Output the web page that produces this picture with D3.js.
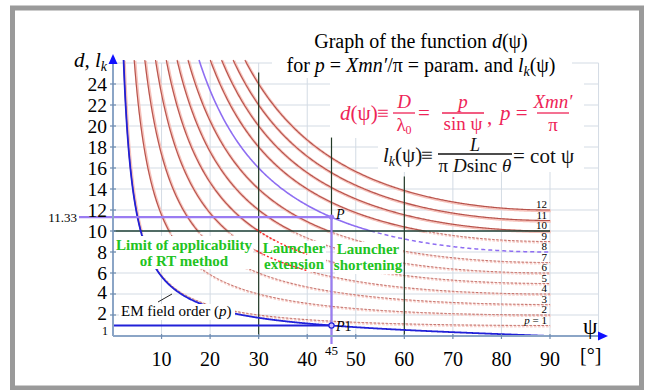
<!DOCTYPE html>
<html>
<head>
<meta charset="utf-8">
<script src="https://cdn.jsdelivr.net/npm/d3@7"></script>
</head>
<body style="margin:0;background:#fff">
<svg id="chart" width="645" height="390" style="display:block"></svg>
<script>
// Parameter values p of the family d(psi) = p / sin(psi)
const pValues = [1, 2, 3, 4, 5, 6, 7, 8, 9, 10, 11, 12];
const highlightP = 8;                 // curve through the working point P
const psiTicks = [10, 20, 30, 40, 50, 60, 70, 80, 90];
const dTicks = [2, 4, 6, 8, 10, 12, 14, 16, 18, 20, 22, 24];
const gridD = [0, 2, 4, 6, 8, 10, 12, 14, 16, 18, 20, 22, 24, 26];
const gridPsi = [0, 10, 20, 30, 40, 50, 60, 70, 80, 90, 100];
const limitD = 10;                    // limit of applicability of the RT method
const boundaryPsi = [30, 45, 60];     // reference angles
const boundaryTopD = [25.1, 18.9, 15.2];
const pointPsi = 45;
const pointD = 11.33;                 // P
const pointLk = 1;                    // P1
const extensionP = [5, 4];            // highlighted launcher-extension segments
const extensionRange = [29.5, 40];

const FONT = "'Liberation Serif'";
const svg = d3.select("#chart");
const x = d3.scaleLinear().domain([0, 90]).range([113, 550]);
const y = d3.scaleLinear().domain([0, 24]).range([336, 84]);
const dTop = y.invert(60);
const rad = Math.PI / 180;
const dOf = (p, psi) => p / Math.sin(psi * rad);
const lkOf = psi => Math.cos(psi * rad) / Math.sin(psi * rad);

// Frame
svg.append("rect").attr("x", 12.5).attr("y", 8).attr("width", 629).attr("height", 380)
  .attr("fill", "#fff").attr("stroke", "#9a9a9a").attr("stroke-width", 5);

// Grid
const grid = svg.append("g").attr("stroke", "#d3dbe4").attr("stroke-width", 1);
grid.selectAll("line.h").data(gridD).join("line")
  .attr("x1", x(0)).attr("x2", x(100)).attr("y1", d => y(d)).attr("y2", d => y(d));
grid.selectAll("line.v").data(gridPsi).join("line")
  .attr("x1", d => x(d)).attr("x2", d => x(d)).attr("y1", y(0)).attr("y2", y(26));

// White areas behind title and formulas
svg.append("rect").attr("x", 272).attr("y", 26).attr("width", 300).attr("height", 52).attr("fill", "#fff");
svg.append("rect").attr("x", 330).attr("y", 78).attr("width", 254).attr("height", 60).attr("fill", "#fff");
svg.append("rect").attr("x", 378).attr("y", 138).attr("width", 206).attr("height", 34).attr("fill", "#fff");

const line = d3.line().x(d => x(d[0])).y(d => y(d[1]));

function curvePoints(f, from, to, step) {
  const pts = d3.range(from, to, step).map(psi => [psi, f(psi)]);
  pts.push([to, f(to)]);
  return pts;
}

// Family of d(psi) curves; dashed below the RT limit
const curves = svg.append("g").attr("fill", "none");
pValues.filter(p => p !== highlightP).forEach(p => {
  const start = Math.asin(Math.min(1, p / dTop)) / rad;
  const cross = p < limitD ? Math.asin(p / limitD) / rad : 90;
  if (cross > start) {
    const pts = curvePoints(psi => dOf(p, psi), start, cross, 0.2);
    curves.append("path").attr("d", line(pts)).attr("stroke", "#f6c2bb").attr("stroke-width", 2.8)
      .attr("transform", "translate(0.8,0.8)");
    curves.append("path").attr("d", line(pts)).attr("stroke", "#b5524b").attr("stroke-width", 1.1);
  }
  if (cross < 90) {
    const pts = curvePoints(psi => dOf(p, psi), Math.max(cross, start), 90, 0.2);
    curves.append("path").attr("d", line(pts)).attr("stroke", "#f8d2cd").attr("stroke-width", 2.6)
      .attr("stroke-dasharray", "2.5,1.5").attr("transform", "translate(0.6,0.8)");
    curves.append("path").attr("d", line(pts)).attr("stroke", "#bf6a63").attr("stroke-width", 1)
      .attr("stroke-dasharray", "2.5,1.5");
  }
});

// Curve through P
{
  const p = highlightP;
  const start = Math.asin(p / dTop) / rad;
  const cross = Math.asin(p / limitD) / rad;
  curves.append("path").attr("d", line(curvePoints(psi => dOf(p, psi), start, cross, 0.2)))
    .attr("stroke", "#8e6ef2").attr("stroke-width", 1.6);
  curves.append("path").attr("d", line(curvePoints(psi => dOf(p, psi), cross, 90, 0.2)))
    .attr("stroke", "#8e6ef2").attr("stroke-width", 1.5).attr("stroke-dasharray", "4,3");
}

// RT limit line and reference angles
svg.append("line").attr("x1", x(0)).attr("x2", x(90)).attr("y1", y(limitD)).attr("y2", y(limitD))
  .attr("stroke", "#1e4036").attr("stroke-width", 1.6);
svg.selectAll("line.ref").data(boundaryPsi).join("line")
  .attr("x1", d => x(d)).attr("x2", d => x(d))
  .attr("y1", (d, i) => y(boundaryTopD[i])).attr("y2", y(0))
  .attr("stroke", "#223a26").attr("stroke-width", 1.2);

// l_k(psi) = cot(psi)
const lkStart = Math.atan(1 / dTop) / rad;
svg.append("path").attr("d", line(curvePoints(lkOf, lkStart, 90, 0.1)))
  .attr("fill", "none").attr("stroke", "#2121d8").attr("stroke-width", 1.8);
svg.append("line").attr("x1", x(0)).attr("x2", x(pointPsi)).attr("y1", y(pointLk)).attr("y2", y(pointLk))
  .attr("stroke", "#2121d8").attr("stroke-width", 2);

// Working point guides
svg.append("line").attr("x1", 79).attr("x2", x(pointPsi)).attr("y1", y(pointD)).attr("y2", y(pointD))
  .attr("stroke", "#9a7cf2").attr("stroke-width", 2.2);
svg.append("line").attr("x1", x(pointPsi)).attr("x2", x(pointPsi)).attr("y1", y(pointD)).attr("y2", 344)
  .attr("stroke", "#9a7cf2").attr("stroke-width", 2.2);
svg.append("circle").attr("cx", x(pointPsi)).attr("cy", y(pointD)).attr("r", 2.6)
  .attr("fill", "#9a7cf2");
svg.append("circle").attr("cx", x(pointPsi)).attr("cy", y(pointLk)).attr("r", 2.6)
  .attr("fill", "#c9b8ff").attr("stroke", "#2121d8").attr("stroke-width", 1.2);
svg.append("text").attr("x", 336).attr("y", 219).attr("font-size", 14).attr("font-style", "italic").text("P");
svg.append("text").attr("x", 336).attr("y", 331).attr("font-size", 14)
  .call(t => { t.append("tspan").attr("font-style", "italic").text("P"); t.append("tspan").text("1"); });

// Region labels with white backing
function label(lines, cx, baselines, size, color, weight, box) {
  svg.append("rect").attr("x", box[0]).attr("y", box[1]).attr("width", box[2]).attr("height", box[3]).attr("fill", "#fff");
  lines.forEach((s, i) => {
    svg.append("text").attr("x", cx).attr("y", baselines[i]).attr("text-anchor", "middle")
      .attr("font-size", size).attr("font-weight", weight).attr("fill", color).text(s);
  });
}
label(["Limit of applicability", "of RT method"], 184, [250, 266], 15, "#22c322", "bold", [116, 236, 137, 33]);
label(["Launcher", "extension"], 294, [253, 269], 15, "#22c322", "bold", [263, 241, 63, 31]);
label(["Launcher", "shortening"], 368, [254, 270], 15, "#22c322", "bold", [335, 242, 68, 32]);

// Launcher-extension segments
extensionP.forEach(p => {
  svg.append("path").attr("d", line(curvePoints(psi => dOf(p, psi), extensionRange[0], extensionRange[1], 0.2)))
    .attr("fill", "none").attr("stroke", "#ff2a2a").attr("stroke-width", 1.4).attr("stroke-dasharray", "2,2");
});

// EM field order label
svg.append("rect").attr("x", 119).attr("y", 304).attr("width", 116).attr("height", 16).attr("fill", "#fff");
svg.append("text").attr("x", 121).attr("y", 316).attr("font-size", 15)
  .call(t => {
    t.append("tspan").text("EM field order (");
    t.append("tspan").attr("font-style", "italic").text("p");
    t.append("tspan").text(")");
  });
svg.append("line").attr("x1", 158).attr("y1", 302).attr("x2", 172).attr("y2", 294)
  .attr("stroke", "#222").attr("stroke-width", 1);

// Axes
const axisColor = "#8ba5c6";
svg.append("line").attr("x1", x(0)).attr("x2", x(0)).attr("y1", y(0)).attr("y2", 62)
  .attr("stroke", axisColor).attr("stroke-width", 2);
svg.append("line").attr("x1", x(0)).attr("x2", 600).attr("y1", y(0)).attr("y2", y(0))
  .attr("stroke", axisColor).attr("stroke-width", 2);
svg.append("path").attr("d", "M113,54 L108.5,64 L117.5,64 Z").attr("fill", "#1010ff");
svg.append("path").attr("d", "M608,336 L598,331.5 L598,340.5 Z").attr("fill", "#1010ff");

svg.selectAll("line.ty").data(dTicks).join("line")
  .attr("x1", x(0) - 3).attr("x2", x(0) + 3).attr("y1", d => y(d)).attr("y2", d => y(d))
  .attr("stroke", "#6f8cb0").attr("stroke-width", 1.2);
svg.selectAll("line.tx").data(psiTicks).join("line")
  .attr("x1", d => x(d)).attr("x2", d => x(d)).attr("y1", y(0) - 2).attr("y2", y(0) + 3)
  .attr("stroke", "#6f8cb0").attr("stroke-width", 1.2);

// Lowest labels sit a little higher so they clear the small "1"
const tickLabelShift = d => (d === 2 ? 4.5 : d === 4 ? 5 : 7);
svg.selectAll("text.ty").data(dTicks).join("text")
  .attr("x", 107).attr("y", d => y(d) + tickLabelShift(d))
  .attr("text-anchor", "end").attr("font-size", 19.5).text(d => d);
svg.append("text").attr("x", 108).attr("y", y(pointLk) + 9.5).attr("text-anchor", "end").attr("font-size", 12).text("1");
svg.append("text").attr("x", 77).attr("y", y(pointD) + 4.5).attr("text-anchor", "end").attr("font-size", 13).text(pointD);

svg.selectAll("text.tx").data(psiTicks).join("text")
  .attr("x", d => x(d)).attr("y", 366).attr("text-anchor", "middle").attr("font-size", 20).text(d => d);
svg.append("text").attr("x", x(pointPsi)).attr("y", 355).attr("text-anchor", "middle").attr("font-size", 13).text(pointPsi);

svg.append("text").attr("x", 74).attr("y", 67).attr("font-size", 21).attr("font-style", "italic")
  .call(t => {
    t.append("tspan").text("d, l");
    t.append("tspan").attr("font-size", 14).attr("dy", 4).text("k");
  });
svg.append("text").attr("x", 583).attr("y", 334).attr("font-size", 23).text("ψ");
svg.append("text").attr("x", 580).attr("y", 362).attr("font-size", 20).text("[°]");

// Curve parameter labels
svg.selectAll("text.pl").data(pValues).join("text")
  .attr("x", 547).attr("y", d => y(d) - 2).attr("text-anchor", "end").attr("font-size", 11)
  .each(function (d) {
    const t = d3.select(this);
    if (d === 1) {
      t.append("tspan").attr("font-style", "italic").text("p");
      t.append("tspan").text(" = 1");
    } else {
      t.text(d);
    }
  });

// Title
const title = svg.append("g").attr("font-size", 20).attr("text-anchor", "middle");
title.append("text").attr("x", 421).attr("y", 48)
  .call(t => {
    t.append("tspan").text("Graph of the function ");
    t.append("tspan").attr("font-style", "italic").text("d");
    t.append("tspan").text("(ψ)");
  });
title.append("text").attr("x", 421).attr("y", 72)
  .call(t => {
    t.append("tspan").text("for ");
    t.append("tspan").attr("font-style", "italic").text("p");
    t.append("tspan").text(" = ");
    t.append("tspan").attr("font-style", "italic").text("Xmn′");
    t.append("tspan").text("/π = param. and ");
    t.append("tspan").attr("font-style", "italic").text("l");
    t.append("tspan").attr("font-style", "italic").attr("font-size", 14).attr("dy", 4).text("k");
    t.append("tspan").attr("dy", -4).text("(ψ)");
  });

// Formula for d(psi)
const red = "#ee2457";
const f1 = svg.append("g").attr("fill", red).attr("font-size", 21);
f1.append("text").attr("x", 340).attr("y", 120)
  .call(t => { t.append("tspan").attr("font-style", "italic").text("d"); t.append("tspan").text("(ψ)"); });
f1.append("text").attr("x", 377).attr("y", 120).text("≡");
f1.append("line").attr("x1", 393).attr("x2", 415).attr("y1", 113).attr("y2", 113).attr("stroke", red).attr("stroke-width", 1.3);
f1.append("text").attr("x", 404).attr("y", 108).attr("font-size", 19).attr("text-anchor", "middle").attr("font-style", "italic").text("D");
f1.append("text").attr("x", 404).attr("y", 131).attr("font-size", 19).attr("text-anchor", "middle")
  .call(t => { t.append("tspan").text("λ"); t.append("tspan").attr("font-size", 12).attr("dy", 3).text("0"); });
f1.append("text").attr("x", 418).attr("y", 120).text("=");
f1.append("line").attr("x1", 442).attr("x2", 484).attr("y1", 113).attr("y2", 113).attr("stroke", red).attr("stroke-width", 1.3);
f1.append("text").attr("x", 463).attr("y", 108).attr("font-size", 19).attr("text-anchor", "middle").attr("font-style", "italic").text("p");
f1.append("text").attr("x", 463).attr("y", 130).attr("font-size", 19).attr("text-anchor", "middle").text("sin ψ");
f1.append("text").attr("x", 487).attr("y", 124).text(",");
f1.append("text").attr("x", 500).attr("y", 120)
  .call(t => { t.append("tspan").attr("font-style", "italic").text("p"); t.append("tspan").text(" ="); });
f1.append("line").attr("x1", 537).attr("x2", 569).attr("y1", 113).attr("y2", 113).attr("stroke", red).attr("stroke-width", 1.3);
f1.append("text").attr("x", 553).attr("y", 108).attr("font-size", 19).attr("text-anchor", "middle").attr("font-style", "italic").text("Xmn′");
f1.append("text").attr("x", 553).attr("y", 131).attr("font-size", 19).attr("text-anchor", "middle").text("π");

// Formula for l_k(psi)
const f2 = svg.append("g").attr("fill", "#111").attr("font-size", 21);
f2.append("text").attr("x", 383).attr("y", 162)
  .call(t => {
    t.append("tspan").attr("font-style", "italic").text("l");
    t.append("tspan").attr("font-style", "italic").attr("font-size", 14).attr("dy", 4).text("k");
    t.append("tspan").attr("dy", -4).text("(ψ)");
  });
f2.append("text").attr("x", 421).attr("y", 162).text("≡");
f2.append("line").attr("x1", 438).attr("x2", 512).attr("y1", 154).attr("y2", 154).attr("stroke", "#111").attr("stroke-width", 1.3);
f2.append("text").attr("x", 475).attr("y", 151).attr("font-size", 18).attr("text-anchor", "middle").attr("font-style", "italic").text("L");
f2.append("text").attr("x", 475).attr("y", 172).attr("font-size", 19).attr("text-anchor", "middle")
  .call(t => {
    t.append("tspan").text("π ");
    t.append("tspan").attr("font-style", "italic").text("D");
    t.append("tspan").text("sinc ");
    t.append("tspan").attr("font-style", "italic").text("θ");
  });
f2.append("text").attr("x", 513).attr("y", 163).text("= cot ψ");

// Typeface for all text
svg.selectAll("text").style("font-family", FONT);
</script>
</body>
</html>
